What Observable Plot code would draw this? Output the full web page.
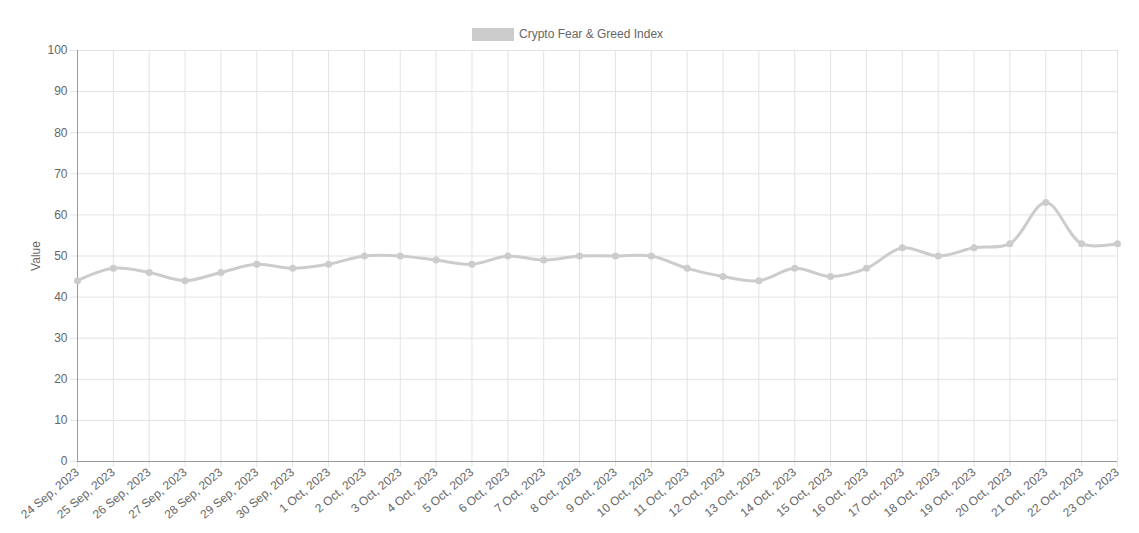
<!DOCTYPE html>
<html>
<head>
<meta charset="utf-8">
<script src="https://cdn.jsdelivr.net/npm/d3@7"></script>
<script src="https://cdn.jsdelivr.net/npm/@observablehq/plot@0.6"></script>
<style>
  body { margin: 0; background: #fff; font-family: "Liberation Sans", Arial, sans-serif; }
  #legend { height: 40px; position: relative; }
  #legend .item { position: absolute; left: 472px; top: 27px; display: flex; align-items: center; font-size: 12px; color: #666; }
  #legend .sw { width: 42px; height: 13px; background: #cccccc; margin-right: 5px; }
  svg { display: block; }
</style>
</head>
<body>
<div id="legend"><div class="item"><div class="sw"></div><span>Crypto Fear &amp; Greed Index</span></div></div>
<div id="chart"></div>
<script>
const dates = ["2023-09-24","2023-09-25","2023-09-26","2023-09-27","2023-09-28","2023-09-29","2023-09-30",
  "2023-10-01","2023-10-02","2023-10-03","2023-10-04","2023-10-05","2023-10-06","2023-10-07","2023-10-08",
  "2023-10-09","2023-10-10","2023-10-11","2023-10-12","2023-10-13","2023-10-14","2023-10-15","2023-10-16",
  "2023-10-17","2023-10-18","2023-10-19","2023-10-20","2023-10-21","2023-10-22","2023-10-23"];
const values = [44,47,46,44,46,48,47,48,50,50,49,48,50,49,50,50,50,47,45,44,47,45,47,52,50,52,53,63,53,53];
const yTicks = [0,10,20,30,40,50,60,70,80,90,100];
const seriesName = "Crypto Fear & Greed Index";
const yLabel = "Value";

const parsed = dates.map(d => new Date(d + "T00:00:00Z"));
const data = parsed.map((d, i) => ({date: d, value: values[i]}));
const fmt = d3.utcFormat("%-d %b, %Y");

const chart = Plot.plot({
  width: 1139,
  height: 493,
  marginTop: 10,
  marginLeft: 77,
  marginRight: 22,
  marginBottom: 72,
  style: {fontFamily: "'Liberation Sans', Arial, sans-serif", fontSize: "12px", color: "#666", background: "#fff", overflow: "visible"},
  x: {type: "utc", domain: [parsed[0], parsed[parsed.length - 1]]},
  y: {domain: [0, 100]},
  marks: [
    Plot.gridX(parsed, {stroke: "#e3e3e3", strokeOpacity: 1}),
    Plot.gridY(yTicks, {stroke: "#e3e3e3", strokeOpacity: 1}),
    Plot.axisX(parsed, {tickFormat: fmt, tickRotate: -40, tickSize: 6, tickPadding: 3, stroke: "#e3e3e3", label: null, fill: "#666"}),
    Plot.axisY(yTicks, {tickSize: 7, tickPadding: 3, stroke: "#e3e3e3", label: yLabel, labelAnchor: "center", labelArrow: "none", labelOffset: 46, fill: "#666"}),
    Plot.ruleX([parsed[0]], {stroke: "#999"}),
    Plot.ruleY([0], {stroke: "#999"}),
    Plot.line(data, {x: "date", y: "value", stroke: "#cccccc", strokeWidth: 3, curve: "catmull-rom"}),
    Plot.dot(data, {x: "date", y: "value", r: 3.5, fill: "#cccccc", stroke: null})
  ]
});
document.getElementById("chart").appendChild(chart);
</script>
</body>
</html>
